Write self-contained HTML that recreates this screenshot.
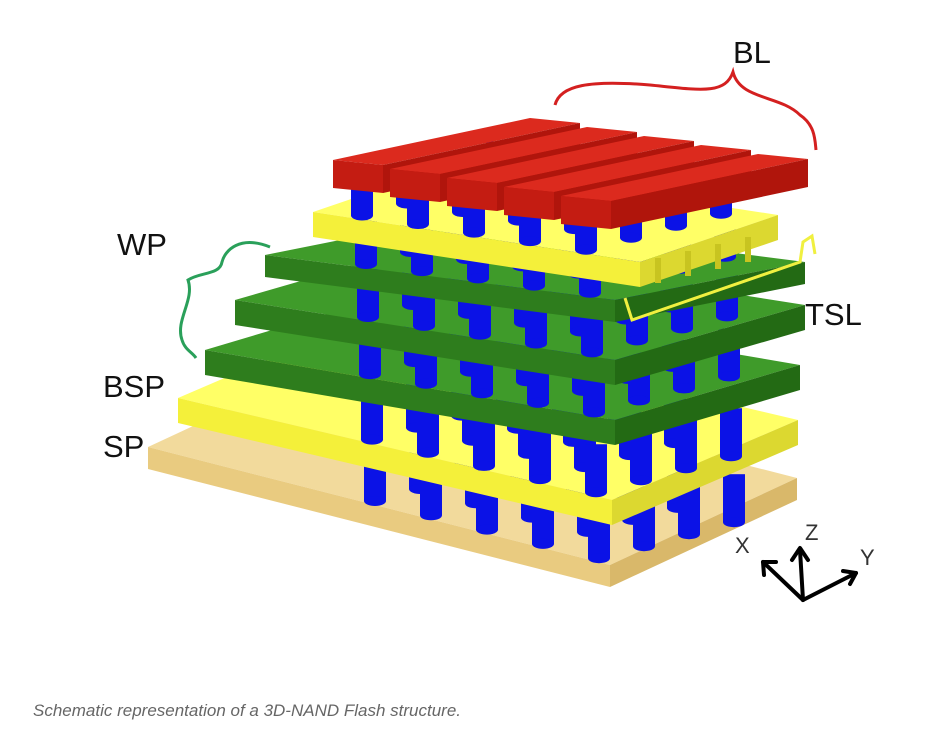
<!DOCTYPE html>
<html><head><meta charset="utf-8"><style>
body{margin:0;background:#fff;width:950px;height:739px;overflow:hidden}
svg{position:absolute;left:0;top:0}
.lbl{font-family:"Liberation Sans","DejaVu Sans",sans-serif;font-size:31px;fill:#111}
.cap{font-family:"Liberation Sans",sans-serif;font-style:italic;font-size:17px;fill:#666}
</style></head><body>
<svg id="s" width="950" height="739" viewBox="0 0 950 739" xmlns="http://www.w3.org/2000/svg"></svg>
<script>
var s=document.getElementById('s'),h='';
function P(pts,f){h+='<polygon points="'+pts.map(function(p){return p[0]+','+p[1]}).join(' ')+'" fill="'+f+'"/>';}
function slab(L,F,R,t,c){var B=[L[0]+R[0]-F[0],L[1]+R[1]-F[1]];
 P([L,F,R,B],c[0]);P([L,F,[F[0],F[1]+t],[L[0],L[1]+t]],c[1]);P([F,R,[R[0],R[1]+t],[F[0],F[1]+t]],c[2]);}
function pillars(L,F,x0,up){var sl=(F[1]-L[1])/(F[0]-L[0]);
 for(var j=3;j>=0;j--)for(var i=0;i<5;i++){var x=x0+56*i+45*j;var y=L[1]+sl*(x0+56*i-L[0])-4-12*j;
  h+='<rect x="'+(x-11)+'" y="'+(y-up)+'" width="22" height="'+up+'" fill="#0b12e6"/><ellipse cx="'+x+'" cy="'+y+'" rx="11" ry="5" fill="#0b12e6"/>';}}
var TAN=['#f2da9c','#e9cb80','#d9b86a'],YEL=['#ffff66','#f4f03a','#dcd830'],GR=['#3f9b2a','#2e7d1d','#236a14'];
var layers=[[[148,447],[610,565],[797,478],22,TAN,375,48],[[178,398],[612,500],[798,420],25,YEL,372,48],
[[205,350],[615,420],[800,365],25,GR,370,48],[[235,300],[615,360],[805,305],25,GR,368,48],[[265,255],[615,300],[805,262],22,GR,366,45],
[[313,212],[640,262],[778,215],25,YEL,362,38]];
layers.forEach(function(l){slab(l[0],l[1],l[2],l[3],l[4]);pillars(l[0],l[1],l[5],l[6]);});
for(var k=0;k<4;k++){var x=655+30*k,y=258-7*k;h+='<rect x="'+x+'" y="'+y+'" width="6" height="25" fill="#c8c420"/>';}
for(var k=0;k<5;k++){var p=[333+57*k,160+9*k],w=[50,5],ln=[197,-42],t=28;
 var a=p,b=[p[0]+w[0],p[1]+w[1]],c=[b[0]+ln[0],b[1]+ln[1]],d=[p[0]+ln[0],p[1]+ln[1]];
 P([a,b,c,d],'#dc2a1e');P([a,b,[b[0],b[1]+t],[a[0],a[1]+t]],'#c41c12');P([b,c,[c[0],c[1]+t],[b[0],b[1]+t]],'#b0150c');}
h+='<path d="M555,105 C560,85 590,80 650,85 C700,90 725,95 733,72 C740,100 780,95 800,115 C815,125 815,140 816,150" fill="none" stroke="#d42020" stroke-width="3"/>';
h+='<path d="M270,247 C240,235 225,250 222,262 C220,275 200,272 188,280 C195,300 175,320 182,340 C185,350 192,352 196,358" fill="none" stroke="#2aa05a" stroke-width="3"/>';
h+='<polyline points="625,298 632,320 800,262 803,242 812,236 815,254" fill="none" stroke="#f0f040" stroke-width="3"/>';
h+='<g stroke="#000" stroke-width="4" fill="none" stroke-linecap="round" stroke-linejoin="round"><line x1="803" y1="600" x2="800" y2="550"/><polyline points="792,560 800,548 808,560"/><line x1="803" y1="600" x2="763" y2="562"/><polyline points="764,575 763,562 776,562"/><line x1="803" y1="600" x2="856" y2="573"/><polyline points="843,571 856,573 850,584"/></g>';
h+='<text x="735" y="553" class="lbl" style="font-size:22px;fill:#333">X</text><text x="805" y="540" class="lbl" style="font-size:22px;fill:#333">Z</text><text x="860" y="565" class="lbl" style="font-size:22px;fill:#333">Y</text>';
h+='<text x="733" y="63" class="lbl">BL</text><text x="117" y="255" class="lbl">WP</text><text x="103" y="397" class="lbl">BSP</text><text x="103" y="457" class="lbl">SP</text><text x="805" y="325" class="lbl">TSL</text>';
h+='<text x="33" y="716" class="cap">Schematic representation of a 3D-NAND Flash structure.</text>';
s.innerHTML=h;
</script>
</body></html>
